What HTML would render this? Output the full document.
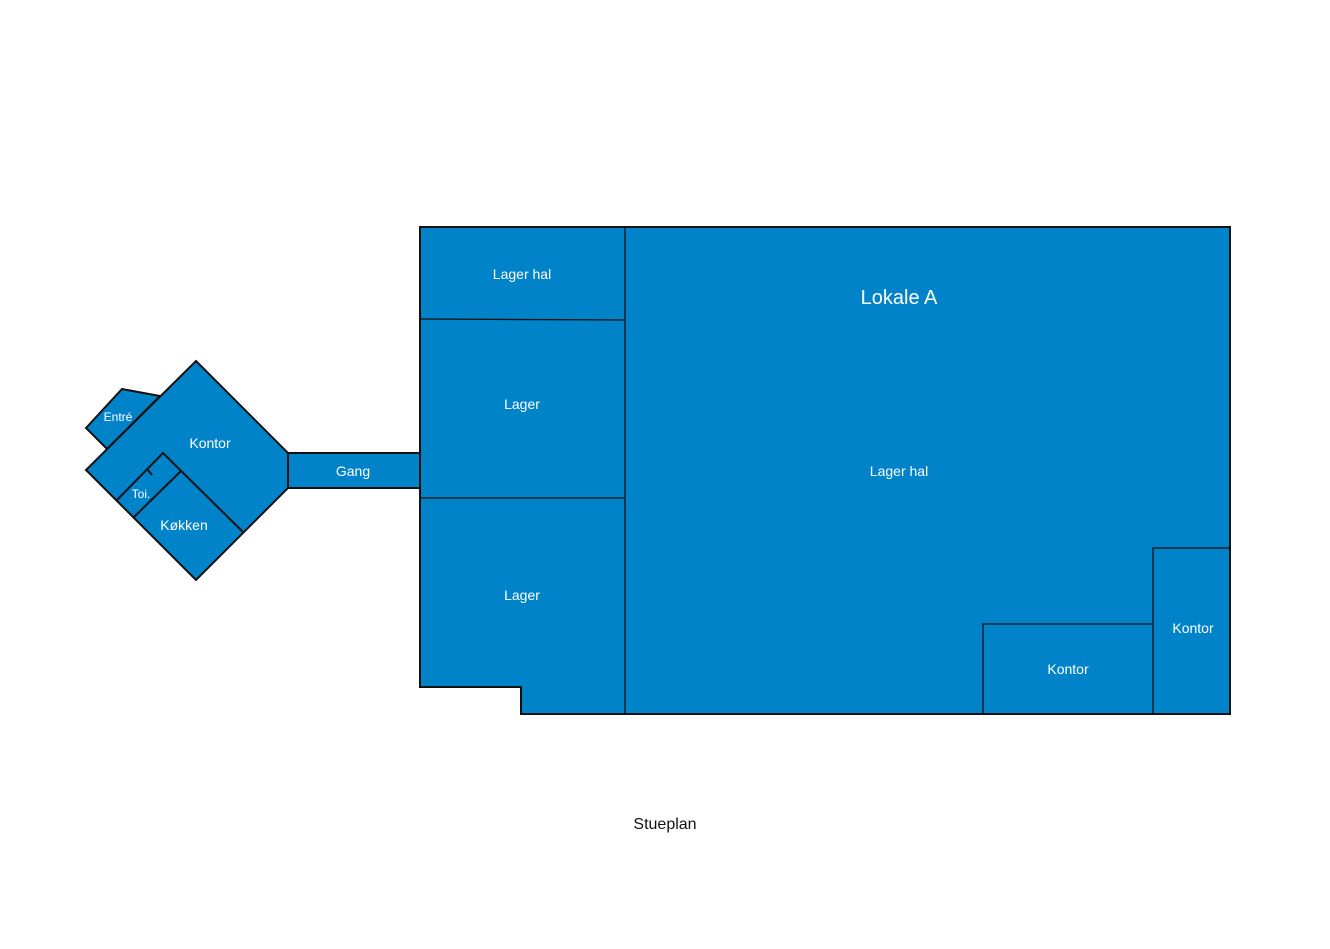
<!DOCTYPE html>
<html><head><meta charset="utf-8"><style>
html,body{margin:0;padding:0;background:#fff;width:1330px;height:949px;overflow:hidden}
text{font-family:"Liberation Sans",sans-serif;fill:#fff}
</style></head><body>
<svg width="1330" height="949" viewBox="0 0 1330 949" xmlns="http://www.w3.org/2000/svg">
<g fill="#0083c8" stroke="#111" stroke-width="2" stroke-linejoin="miter">
<polygon points="86,428 122,389 160,396 107,449"/>
<polygon points="196,361 288,453 288,488 196,580 86,470"/>
<rect x="288" y="453" width="132" height="35"/>
<polygon points="420,227 1230,227 1230,714 521,714 521,687 420,687"/>
</g>
<g fill="none" stroke="#111" stroke-width="2">
<polyline points="117,500 163,453 243,532"/>
<line x1="134" y1="517" x2="181" y2="471"/>
<line x1="147" y1="469" x2="152" y2="475"/>
</g>
<g fill="none" stroke="#111" stroke-width="1.3">
<line x1="625" y1="228" x2="625" y2="713"/>
<line x1="421" y1="319" x2="625" y2="320"/>
<line x1="421" y1="498" x2="625" y2="498"/>
<polyline points="1229,548 1153,548 1153,713"/>
<polyline points="1153,624 983,624 983,713"/>
</g>
<g font-size="14" text-anchor="middle">
<text x="118" y="421" font-size="12">Entré</text>
<text x="210" y="448">Kontor</text>
<text x="141" y="498" font-size="12">Toi.</text>
<text x="184" y="530">Køkken</text>
<text x="353" y="476">Gang</text>
<text x="522" y="279">Lager hal</text>
<text x="522" y="409">Lager</text>
<text x="522" y="600">Lager</text>
<text x="899" y="304" font-size="20">Lokale A</text>
<text x="899" y="476">Lager hal</text>
<text x="1068" y="674">Kontor</text>
<text x="1193" y="633">Kontor</text>
<text x="665" y="829" font-size="16" style="fill:#111">Stueplan</text>
</g>
</svg>
</body></html>
